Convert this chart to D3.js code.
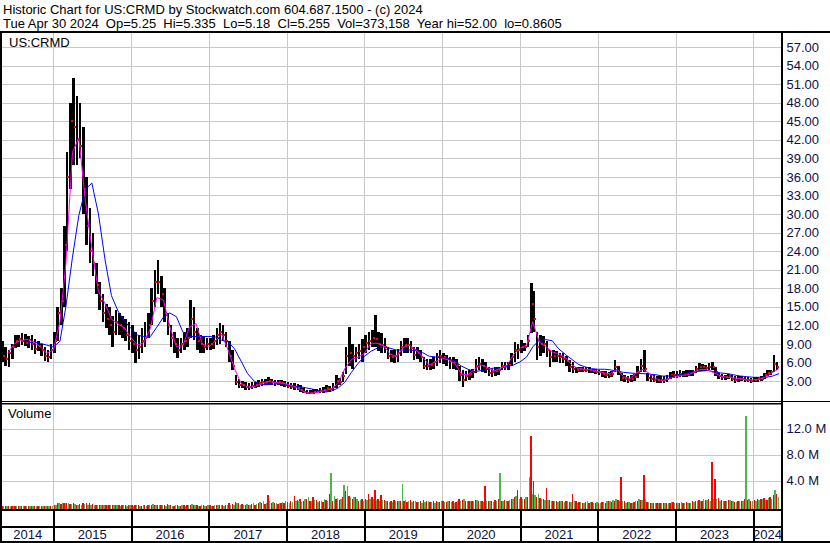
<!DOCTYPE html>
<html><head><meta charset="utf-8">
<script src="https://cdn.jsdelivr.net/npm/d3@7"></script>
<style>
body{margin:0;background:#fff}
svg{display:block}
text{font-family:Arial,"Liberation Sans",sans-serif}
</style>
</head><body>
<svg id="c" width="830" height="543"></svg>
<script>
// ---------- DATA (half-month periods starting May 1 2014) ----------
const headerLine1 = "Historic Chart for US:CRMD by Stockwatch.com 604.687.1500 - (c) 2024";
const headerLine2 = "Tue Apr 30 2024  Op=5.25  Hi=5.335  Lo=5.18  Cl=5.255  Vol=373,158  Year hi=52.00  lo=0.8605";
const symbol = "US:CRMD";

const hi = [
 9.5,8.5,8.0,9.0,10.4,10.5,10.8,10.6,10.2,10.5,9.8,9.4,9.0,8.5,8.0,9.0,
 11,15,18,28,40,48,52,49,48,44,36,31,27,22,19,17,15.5,15,13.5,14.5,14,13.5,13,12.5,
 12,11,10.5,11.5,12.5,14,18,21,22.6,20,18,14,12,11,10,10,11,11.5,16.1,15,11.5,10.5,10.2,10,
 10,10.5,11.5,12.4,12,11,9.5,8,4,3.3,3.0,2.8,2.7,2.8,2.9,3.2,3.4,3.4,3.6,3.4,3.2,3.2,3.2,3.0,
 2.9,2.7,2.6,2.5,2.3,1.8,1.6,1.5,1.7,1.7,1.8,2.0,2.4,2.2,2.6,4.0,3.5,4.5,8.5,11.7,9.0,8.5,9.0,9.8,
 10.5,11,11.2,13.7,11,10.8,10,8.5,8.0,8.0,8.2,9.5,10,10,9.5,8.5,8.5,8.0,6.9,6.5,6.5,6.8,7.5,8.0,
 7.6,7.2,6.9,6.8,6.5,5.5,4.8,4.6,4.8,5.0,6.5,6.9,6.5,6.0,5.3,5.0,5.2,5.3,6.1,6.0,6.1,7.5,9.3,9.0,
 9.6,9.2,10.5,18.8,17.5,11,10.5,10.2,9.5,8.0,8.0,7.8,7.5,7.5,7.0,6.4,6.0,5.3,5.3,5.2,5.2,5.3,5.0,5.0,
 4.8,4.6,4.6,4.4,4.6,6.4,5.5,4.3,4.0,3.8,4.0,4.2,5.5,6.5,8.0,4.3,4.2,4.0,3.8,3.8,3.8,4.0,4.4,4.6,
 4.6,4.7,4.6,4.7,4.8,4.8,5.5,5.9,5.8,5.6,5.9,6.1,5.2,4.3,4.2,4.0,4.2,4.0,3.8,3.8,3.8,3.7,3.6,3.5,
 3.6,3.7,3.8,4.3,4.8,4.8,7.2,6.0
];
const lo = [
 6.0,5.5,5.3,6.5,8.3,8.5,8.8,8.6,8.4,8.0,7.4,7.8,7.0,6.3,6.0,6.5,
 7.5,9.5,12,15,24,34,38,38,39,30,25,22,20,17,14.5,12.5,11.5,10.5,8.5,10.5,10.5,10,9.5,8,
 7.5,5.9,6.5,7.5,8.5,10,12,15,17,15,12.5,10.5,8.5,7.5,6.7,7.5,8,8.5,10,9.6,8,7.5,7.5,8,
 8,8.2,8.8,9,9.5,8.5,6,4.8,2.3,1.9,1.8,1.6,1.6,1.7,1.8,2.0,2.2,2.3,2.4,2.3,2.2,2.3,2.2,2.0,
 1.8,1.7,1.6,1.5,1.3,1.0,0.9,0.86,0.9,1.0,1.0,1.1,1.3,1.3,1.4,1.8,2.3,2.8,4.2,5.5,5.0,6.0,6.5,6.0,
 7.5,8,8.5,8.5,7.8,7.5,7.5,6.5,6.0,5.9,6.0,7.0,7.5,7.5,7.5,6.4,6.5,6.0,5.0,4.8,4.8,5.0,5.5,5.9,
 5.8,5.5,5.0,5.0,4.8,3.0,2.0,3.0,3.2,3.5,4.3,4.8,4.5,4.3,3.8,3.7,3.8,4.0,4.8,4.8,4.8,5.5,6.0,6.5,
 7.5,7.8,8.5,10.8,11,6.4,7,7.5,6.9,5.3,6.0,6.0,5.9,5.9,5.5,4.5,4.3,4.3,4.5,4.4,4.4,4.3,4.3,4.2,
 4.0,3.7,3.5,3.5,3.6,4.5,4.0,3.0,2.8,2.7,2.8,3.0,3.5,4.5,4.5,3.0,2.9,2.8,2.7,2.7,2.7,2.9,3.3,3.5,
 3.5,3.6,3.6,3.7,3.8,3.8,4.3,4.6,4.6,4.6,4.8,4.8,3.8,3.3,3.2,3.2,3.3,3.0,2.7,2.9,3.0,2.9,2.8,2.7,
 2.8,2.9,3.0,3.4,3.8,3.9,4.5,4.8
];
const cl = [
 7.0,6.5,7.5,8.5,9.5,9.8,9.5,9.2,9.6,9.0,8.2,8.6,8.0,7.0,6.8,8.0,
 9.5,14,16,25,36,45,44,42,41,34,28,24,22,18.5,16,14,13,12,11,12.5,12,11.5,10.5,9.5,
 9,8,8.5,9.5,10,12,16,19,19,17,14,12,10,9,8,9,9.5,10,13,11,9.5,9,8.5,9,
 9,9.5,10.5,11,10.5,9.5,7,5.5,2.8,2.4,2.3,2.1,2.0,2.2,2.4,2.7,2.9,2.9,3.0,2.8,2.7,2.8,2.6,2.4,
 2.2,2.1,2.0,1.9,1.6,1.3,1.1,1.1,1.3,1.4,1.4,1.5,1.8,1.7,2.0,3.0,2.9,3.8,7.0,7.5,7.0,7.5,7.8,8.5,
 9.2,9.5,10,9.8,9.0,8.8,8.5,7.0,6.8,7.0,7.5,8.5,8.8,8.8,8.3,7.2,7.5,6.8,5.5,5.4,5.6,6.0,6.8,7.0,
 6.8,6.5,6.2,6.0,5.6,4.0,3.2,3.8,4.1,4.5,5.5,5.8,5.4,5.0,4.3,4.4,4.6,4.8,5.5,5.4,5.6,6.8,8.0,8.0,
 8.5,8.5,9.5,15.5,13,8.5,9.0,9.0,8.0,6.8,7.0,7.0,6.8,6.5,6.2,5.2,5.0,4.8,4.9,4.8,4.8,4.7,4.6,4.5,
 4.4,4.1,4.0,3.9,4.1,5.2,4.5,3.5,3.3,3.2,3.4,3.6,4.5,5.5,5.0,3.5,3.4,3.2,3.1,3.2,3.2,3.4,3.9,4.0,
 4.0,4.2,4.1,4.2,4.3,4.4,5.0,5.2,5.2,5.1,5.3,5.2,4.4,3.8,3.7,3.6,3.8,3.4,3.2,3.4,3.4,3.2,3.2,3.0,
 3.2,3.3,3.4,3.9,4.3,4.4,5.8,5.3
];
// volume in millions, largest down-day / up-day in each half-month
const volDown = [
 0.1,0.15,0.1,0.12,0.1,0.15,0.1,0.12,0.1,0.15,0.12,0.1,0.15,0.1,0.12,0.15,
 0.2,0.5,0.4,0.6,0.5,0.4,0.5,0.3,0.4,0.5,0.6,0.5,0.4,0.3,0.3,0.25,0.3,0.2,0.25,0.3,0.2,0.25,0.2,0.2,
 0.2,0.25,0.2,0.15,0.2,0.25,0.3,0.3,0.25,0.2,0.2,0.4,0.2,0.15,0.2,0.15,0.2,0.2,0.3,0.25,0.2,0.15,0.2,0.15,
 0.2,0.15,0.2,0.3,0.2,0.3,0.5,0.4,0.7,0.5,0.4,0.3,0.3,0.4,0.3,0.5,0.6,0.4,1.7,0.6,0.5,0.4,0.5,0.6,
 0.7,0.8,1.6,1.0,1.2,0.8,1.2,0.9,1.4,1.0,0.8,0.7,1.0,1.9,0.9,1.2,1.0,1.4,2.4,1.6,1.2,1.4,0.9,1.1,
 1.2,1.9,1.4,2.6,1.2,1.8,1.0,0.9,0.8,1.0,0.9,0.8,0.9,0.7,1.0,0.8,0.7,0.8,1.0,0.8,0.7,0.8,0.9,0.7,
 0.8,0.7,0.8,0.9,0.7,1.2,1.0,0.8,0.9,0.8,1.0,0.9,0.8,3.1,0.9,0.8,1.0,1.2,0.9,1.0,0.8,1.2,1.5,2.6,
 1.5,1.2,1.5,10.9,3.9,1.5,1.3,1.1,2.9,1.0,0.9,0.8,0.9,0.8,0.9,0.7,1.9,0.8,0.7,0.6,0.7,0.6,0.7,0.6,
 0.6,0.7,0.6,0.8,0.7,0.9,1.0,4.6,0.8,0.7,0.6,0.7,0.9,1.0,4.9,0.7,0.6,0.5,0.6,0.5,0.6,0.5,0.6,0.7,
 0.6,0.5,0.6,0.7,0.6,0.8,0.9,1.0,0.9,1.0,1.1,6.8,4.3,1.3,1.0,0.9,1.0,0.8,0.7,0.8,0.9,1.2,1.0,0.9,
 1.0,1.2,1.1,1.3,1.0,1.4,1.8,2.0
];
const volUp = [
 0.1,0.12,0.15,0.1,0.12,0.1,0.15,0.1,0.12,0.1,0.1,0.12,0.1,0.15,0.1,0.12,
 0.3,0.6,0.5,0.5,0.6,0.4,0.4,0.3,0.3,0.4,0.3,0.3,0.25,0.2,0.3,0.2,0.2,0.25,0.2,0.2,0.15,0.2,0.15,0.2,
 0.15,0.2,0.15,0.2,0.15,0.3,0.35,0.3,0.2,0.2,0.15,0.2,0.15,0.2,0.15,0.2,0.15,0.2,0.45,0.3,0.15,0.2,0.15,0.2,
 0.15,0.2,0.2,0.25,0.15,0.2,0.3,0.3,0.5,0.3,0.3,0.4,0.3,0.5,0.4,0.7,0.9,0.6,0.8,0.7,0.5,0.6,0.7,0.8,
 0.6,0.7,0.9,0.8,0.7,1.1,1.4,0.8,1.0,0.7,0.9,1.2,0.8,5.2,1.6,1.3,1.2,3.3,3.2,1.4,1.5,1.2,1.0,0.8,
 1.0,1.1,1.2,1.0,0.9,1.0,0.8,0.7,0.7,0.8,0.9,3.4,1.0,0.8,0.7,0.8,0.7,0.6,0.7,0.8,0.7,0.6,0.7,0.8,
 0.7,0.8,0.7,0.6,0.8,0.9,1.1,0.9,0.8,0.9,1.0,0.8,0.7,0.9,0.8,0.7,0.8,5.1,0.9,0.8,1.0,1.2,1.6,1.2,
 1.2,1.4,4.5,2.0,1.8,2.0,1.2,1.0,1.0,0.8,0.9,0.7,0.8,0.7,0.9,0.7,0.8,0.6,0.7,0.6,0.9,0.7,0.6,0.7,
 0.6,0.7,0.8,0.9,1.0,1.1,0.9,0.8,0.6,0.7,0.6,0.8,1.2,1.0,1.1,0.7,0.6,0.5,0.6,0.5,0.5,0.6,0.7,0.6,
 0.6,0.7,0.6,0.5,0.6,0.7,0.8,0.9,1.1,1.0,0.9,1.2,1.1,0.9,0.8,0.9,1.0,0.8,0.7,0.9,0.8,14.0,1.2,0.9,
 0.9,1.0,1.2,1.0,1.3,1.2,2.5,1.5
];
// moving averages read monthly, starting May 2014
const maFast = [
 null,7.5,9.0,9.6,9.7,9.3,8.5,7.5,
 8.0,12.5,22,40,42.3,32,24.5,17.5,15.5,13,12.2,11.6,
 10,8.8,9.2,11.5,16.5,16.1,11.8,8.6,8.7,11.7,12.3,9.0,
 8.5,9.5,10.6,8.0,5.0,2.6,2.0,2.1,2.5,2.9,2.8,2.7,
 2.5,2.2,1.7,1.1,1.0,1.2,1.5,1.7,2.8,5.0,6.5,6.8,
 7.5,9.1,9.1,8.7,7.4,6.9,8.4,8.8,8.0,6.9,5.6,6.1,
 6.7,6.4,5.8,4.1,4.0,4.9,5.6,5.2,4.6,5.1,5.5,7.3,
 8.3,8.8,12.6,9.3,8.6,7.7,7.4,6.8,5.6,5.0,4.9,4.8,
 4.6,4.3,4.2,4.9,3.7,3.4,4.3,4.9,4.2,3.4,3.0,3.4,
 3.7,3.9,4.0,4.5,4.9,4.8,4.3,3.8,3.6,3.5,3.4,3.2,
 3.2,3.3,3.7,4.4,5.0
];
const maSlow = [
 null,null,null,null,9.2,9.3,9.1,8.8,
 8.5,9.4,15,23,29.8,34,35,30,22.6,16.8,14.3,12.7,
 11.5,10.4,10.2,10.2,11.7,13.3,14.0,13.4,10.9,10.2,10.2,10.2,
 10.2,10.1,9.6,9.3,8.2,6.2,4.2,3.0,2.4,2.4,2.5,2.6,
 2.3,2.2,2.1,1.9,1.7,1.4,1.2,1.4,1.9,2.8,4.4,5.8,
 7.0,7.8,8.3,8.5,8.3,8.0,8.0,8.0,7.9,7.6,7.0,6.9,
 6.8,6.6,6.2,5.4,4.9,4.5,4.7,4.9,5.1,5.1,5.3,5.6,
 6.1,6.9,8.5,9.6,9.7,9.5,8.2,7.3,6.5,5.7,5.3,5.0,
 4.9,4.9,4.8,4.6,4.4,4.3,4.2,4.2,4.1,4.0,3.8,3.8,
 3.9,4.1,4.3,4.5,4.6,4.7,4.5,4.3,4.2,4.0,3.8,3.7,
 3.6,3.6,3.6,3.8,4.2
];
const priceTicks = [3,6,9,12,15,18,21,24,27,30,33,36,39,42,45,48,51,54,57];
const volTicks = [4,8,12];
const years = [2014,2015,2016,2017,2018,2019,2020,2021,2022,2023,2024];

// ---------- CHART ----------
const svg = d3.select("#c");
const L = 2, R = 781.5, TOP = 32, PBOT = 401, VTOP = 404, VBOT = 509;
const periodStart = i => new Date(2014, 4 + Math.floor(i / 2), i % 2 ? 16 : 1);
const monthStart = j => new Date(2014, 4 + j, 1);

const x = d3.scaleTime().domain([new Date(2015,0,1), new Date(2024,0,1)]).range([53.3, 753.3]);
const yP = d3.scaleLinear().domain([3, 57]).range([381, 47]);
const yV = d3.scaleLinear().domain([0, 12]).range([506.5, 428.5]);

// header
svg.append("text").attr("x", 3).attr("y", 14).attr("font-size", 13).text(headerLine1);
svg.append("text").attr("x", 3).attr("y", 28).attr("font-size", 13).attr("xml:space","preserve")
  .style("white-space","pre").text(headerLine2);

// grids (price)
const gP = svg.append("g").attr("transform", `translate(${R},0)`)
  .call(d3.axisRight(yP).tickValues(priceTicks).tickSize(-(R - L)).tickPadding(5).tickFormat(d3.format(".2f")));
gP.select(".domain").remove();
gP.selectAll("line").attr("stroke", "#c8c8c8").attr("shape-rendering", "crispEdges");
gP.selectAll("text").attr("font-size", 13).attr("fill", "#101040").attr("font-family","Arial,'Liberation Sans',sans-serif");

// grids (volume)
const gV = svg.append("g").attr("transform", `translate(${R},0)`)
  .call(d3.axisRight(yV).tickValues(volTicks).tickSize(-(R - L)).tickPadding(5).tickFormat(d => d.toFixed(1) + " M"));
gV.select(".domain").remove();
gV.selectAll("line").attr("stroke", "#c8c8c8").attr("shape-rendering", "crispEdges");
gV.selectAll("text").attr("font-size", 13).attr("fill", "#101040").attr("font-family","Arial,'Liberation Sans',sans-serif");

// vertical year grid lines
const yearStarts = years.slice(1).map(y => new Date(y, 0, 1));
const gX = svg.append("g").attr("transform", `translate(0,${VBOT})`)
  .call(d3.axisBottom(x).tickValues(yearStarts).tickSize(-(VBOT - TOP)).tickFormat(""));
gX.select(".domain").remove();
gX.selectAll("line").attr("stroke", "#c8c8c8").attr("shape-rendering", "crispEdges");

// date band separators
const gX2 = svg.append("g").attr("transform", `translate(0,${VBOT})`)
  .call(d3.axisBottom(x).tickValues(yearStarts).tickSize(32).tickFormat(""));
gX2.select(".domain").remove();
gX2.selectAll("line").attr("stroke", "#000").attr("stroke-width", 2).attr("shape-rendering", "crispEdges");

// year labels
svg.append("g").selectAll("text").data(years).join("text")
  .attr("x", y => (Math.max(L, x(new Date(y,0,1))) + Math.min(R, x(new Date(y+1,0,1)))) / 2)
  .attr("y", 539).attr("text-anchor", "middle").attr("font-size", 13).attr("fill", "#101040")
  .text(d => d);

// labels
svg.append("text").attr("x", 9).attr("y", 47).attr("font-size", 13).text(symbol);
svg.append("text").attr("x", 8).attr("y", 418).attr("font-size", 13).text("Volume");

// volume bars
const idx = d3.range(hi.length);
svg.append("g").attr("shape-rendering", "crispEdges").selectAll("rect").data(idx.filter(i => volDown[i] > 0)).join("rect")
  .attr("x", i => x(periodStart(i)) + 0.2).attr("width", 1.4)
  .attr("y", i => yV(volDown[i])).attr("height", i => yV(0) - yV(volDown[i]) + 2)
  .attr("fill", "#ff0000");
svg.append("g").attr("shape-rendering", "crispEdges").selectAll("rect").data(idx.filter(i => volUp[i] > 0)).join("rect")
  .attr("x", i => x(periodStart(i)) + 1.8).attr("width", 1.4)
  .attr("y", i => yV(volUp[i])).attr("height", i => yV(0) - yV(volUp[i]) + 2)
  .attr("fill", "#4cb84c");

// price bars
svg.append("g").attr("shape-rendering", "crispEdges").selectAll("rect").data(idx).join("rect")
  .attr("x", i => x(periodStart(i))).attr("width", 2.6)
  .attr("y", i => yP(hi[i])).attr("height", i => Math.max(1, yP(lo[i]) - yP(hi[i])))
  .attr("fill", "#000");
svg.append("g").attr("shape-rendering", "crispEdges").selectAll("rect").data(idx).join("rect")
  .attr("x", i => x(periodStart(i)) + 1.6).attr("width", 2)
  .attr("y", i => yP(cl[i]) - 1).attr("height", 2)
  .attr("fill", "#ff0000");

// moving averages
const line = arr => d3.line().defined(d => d != null).x((d, j) => x(monthStart(j))).y(d => yP(d))(arr);
svg.append("path").attr("d", line(maSlow)).attr("fill", "none").attr("stroke", "#0000ff").attr("stroke-width", 1);
svg.append("path").attr("d", line(maFast)).attr("fill", "none").attr("stroke", "#ff00ff").attr("stroke-width", 1);

// frame
const frame = [
  [0, 31, 830, 2], [0, 31, 2, 512], [781, 31, 2, 511],
  [0, 401, 830, 1], [0, 403, 782, 1.5], [0, 509, 782, 2], [0, 526, 782, 2], [0, 541, 830, 2]
];
svg.append("g").selectAll("rect").data(frame).join("rect")
  .attr("x", d => d[0]).attr("y", d => d[1]).attr("width", d => d[2]).attr("height", d => d[3]).attr("fill", "#000");
</script>
</body></html>
